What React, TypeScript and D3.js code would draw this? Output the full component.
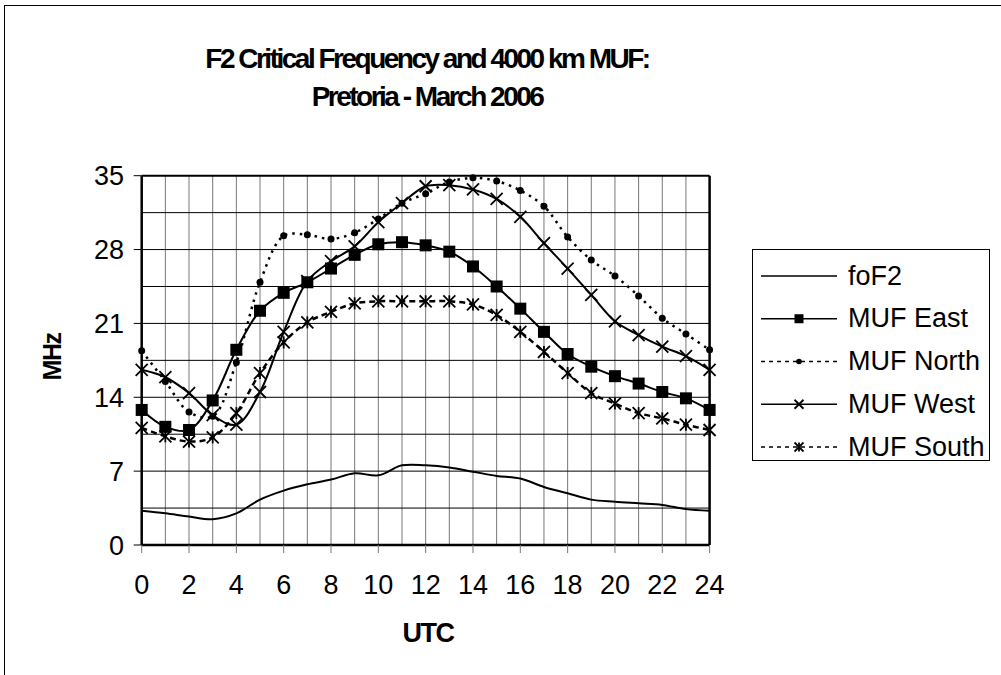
import * as d3 from "d3";

// hourly values (UTC 0..24), MHz
const hours = [0, 1, 2, 3, 4, 5, 6, 7, 8, 9, 10, 11, 12, 13, 14, 15, 16, 17, 18, 19, 20, 21, 22, 23, 24];
const foF2 = [3.25, 3.0, 2.7, 2.45, 3.0, 4.3, 5.15, 5.75, 6.2, 6.8, 6.6, 7.55, 7.55, 7.35, 6.95, 6.55, 6.3, 5.5, 4.9, 4.3, 4.1, 3.95, 3.8, 3.4, 3.25];
const mufEast = [12.8, 11.2, 10.9, 13.7, 18.5, 22.2, 23.9, 24.9, 26.2, 27.5, 28.5, 28.7, 28.4, 27.8, 26.4, 24.5, 22.4, 20.2, 18.1, 16.9, 16.0, 15.3, 14.5, 13.9, 12.8];
const mufNorth = [18.4, 15.5, 12.6, 12.2, 17.3, 24.9, 29.3, 29.4, 29.0, 29.6, 30.9, 32.4, 33.3, 34.4, 34.8, 34.5, 33.6, 32.1, 29.2, 27.0, 25.5, 23.6, 21.5, 20.0, 18.5];
const mufWest = [16.6, 15.9, 14.4, 12.3, 11.4, 14.5, 20.2, 25.0, 26.9, 28.3, 30.6, 32.4, 34.0, 34.1, 33.7, 32.8, 31.1, 28.6, 26.2, 23.7, 21.2, 19.9, 18.8, 17.9, 16.6];
const mufSouth = [11.1, 10.3, 9.8, 10.2, 12.5, 16.3, 19.2, 21.1, 22.1, 22.9, 23.1, 23.1, 23.1, 23.1, 22.8, 21.8, 20.2, 18.3, 16.3, 14.4, 13.4, 12.5, 12.0, 11.4, 10.9];

const xTicks = [0, 2, 4, 6, 8, 10, 12, 14, 16, 18, 20, 22, 24];
const yTicks = [0, 7, 14, 21, 28, 35];

type MarkerKind = "none" | "square" | "dot" | "cross" | "star";

const series: { name: string; values: number[]; marker: MarkerKind; dash: string | null }[] = [
  { name: "foF2", values: foF2, marker: "none", dash: null },
  { name: "MUF East", values: mufEast, marker: "square", dash: null },
  { name: "MUF North", values: mufNorth, marker: "dot", dash: "2.5,5" },
  { name: "MUF West", values: mufWest, marker: "cross", dash: null },
  { name: "MUF South", values: mufSouth, marker: "star", dash: "6,4" },
];

const FONT = "'Liberation Sans', Arial, Helvetica, sans-serif";
const PLOT = { left: 141.7, right: 709.6, top: 175.7, bottom: 545 };

function Marker({ kind, cx, cy, s }: { kind: MarkerKind; cx: number; cy: number; s: number }) {
  const h = s / 2;
  if (kind === "square") return <rect x={cx - h} y={cy - h} width={s} height={s} fill="#000" />;
  if (kind === "dot") return <circle cx={cx} cy={cy} r={h * 0.7} fill="#000" />;
  if (kind === "cross")
    return (
      <g stroke="#000" strokeWidth={1.8}>
        <line x1={cx - h} y1={cy - h} x2={cx + h} y2={cy + h} />
        <line x1={cx - h} y1={cy + h} x2={cx + h} y2={cy - h} />
      </g>
    );
  if (kind === "star")
    return (
      <g stroke="#000" strokeWidth={1.8}>
        <line x1={cx - h} y1={cy - h} x2={cx + h} y2={cy + h} />
        <line x1={cx - h} y1={cy + h} x2={cx + h} y2={cy - h} />
        <line x1={cx} y1={cy - h} x2={cx} y2={cy + h} />
      </g>
    );
  return null;
}

export default function App() {
  const x = d3.scaleLinear().domain([0, 24]).range([PLOT.left, PLOT.right]);
  const y = d3.scaleLinear().domain([0, 35]).range([PLOT.bottom, PLOT.top]);

  const line = d3
    .line<number>()
    .x((_, i) => x(hours[i]))
    .y((d) => y(d))
    .curve(d3.curveCatmullRom.alpha(0.5));

  const vGrid = d3.range(1, 24);
  const hGrid = d3.range(3.5, 35, 3.5);

  const legendY = d3.scaleLinear().domain([0, 4]).range([276, 447]);

  return (
    <svg
      width={1001}
      height={675}
      style={{ position: "absolute", left: 0, top: 0, background: "#fff" }}
      fontFamily={FONT}
    >
      {/* chart area border, only top and left edges fall inside the page */}
      <rect x={4.5} y={5.5} width={1200} height={900} fill="#fff" stroke="#000" strokeWidth={1} />

      <text x={427} y={68} textAnchor="middle" fontSize={28} fontWeight="bold" letterSpacing={-2.5}>
        F2 Critical Frequency and 4000 km MUF:
      </text>
      <text x={427} y={106} textAnchor="middle" fontSize={28} fontWeight="bold" letterSpacing={-2.5}>
        Pretoria - March 2006
      </text>

      {/* gridlines */}
      {vGrid.map((h) => (
        <line key={"v" + h} x1={x(h)} x2={x(h)} y1={PLOT.top} y2={PLOT.bottom} stroke="#777" strokeWidth={1} />
      ))}
      {hGrid.map((v) => (
        <line key={"h" + v} x1={PLOT.left} x2={PLOT.right} y1={y(v)} y2={y(v)} stroke="#000" strokeWidth={1} />
      ))}

      {/* frame */}
      <line x1={PLOT.left} x2={PLOT.right} y1={PLOT.top} y2={PLOT.top} stroke="#000" strokeWidth={2} />
      <line x1={PLOT.right} x2={PLOT.right} y1={PLOT.top} y2={PLOT.bottom} stroke="#000" strokeWidth={2.5} />
      <line x1={PLOT.left} x2={PLOT.right} y1={PLOT.bottom} y2={PLOT.bottom} stroke="#000" strokeWidth={2.5} />
      <line x1={PLOT.left} x2={PLOT.left} y1={PLOT.top} y2={PLOT.bottom} stroke="#000" strokeWidth={2.5} />

      {/* axes ticks and labels */}
      {yTicks.map((t) => (
        <g key={"yt" + t}>
          <line x1={PLOT.left - 8} x2={PLOT.left} y1={y(t)} y2={y(t)} stroke="#000" strokeWidth={1} />
          <text x={124} y={y(t) + 9.5} textAnchor="end" fontSize={27}>
            {t}
          </text>
        </g>
      ))}
      {xTicks.map((t) => (
        <g key={"xt" + t}>
          <line x1={x(t)} x2={x(t)} y1={PLOT.bottom} y2={PLOT.bottom + 8} stroke="#777" strokeWidth={1} />
          <text x={x(t)} y={594} textAnchor="middle" fontSize={27}>
            {t}
          </text>
        </g>
      ))}

      <text x={428} y={642} textAnchor="middle" fontSize={27} fontWeight="bold" letterSpacing={-1.5}>
        UTC
      </text>
      <text
        transform={`translate(61,357) rotate(-90)`}
        textAnchor="middle"
        fontSize={25}
        fontWeight="bold"
        letterSpacing={-1.5}
      >
        MHz
      </text>

      {/* series */}
      {series.map((s) => (
        <g key={s.name}>
          <path
            d={line(s.values) ?? ""}
            fill="none"
            stroke="#000"
            strokeWidth={s.dash ? 2.5 : 2}
            strokeDasharray={s.dash ?? undefined}
          />
          {s.values.map((v, i) => (
            <Marker key={i} kind={s.marker} cx={x(hours[i])} cy={y(v)} s={s.marker === "dot" ? 10 : 12} />
          ))}
        </g>
      ))}

      {/* legend */}
      <rect x={752.5} y={249.5} width={237} height={211} fill="#fff" stroke="#000" strokeWidth={1} />
      {series.map((s, i) => {
        const cy = legendY(i);
        return (
          <g key={"lg" + s.name}>
            <line
              x1={761}
              x2={837}
              y1={cy}
              y2={cy}
              stroke="#000"
              strokeWidth={1.5}
              strokeDasharray={s.dash ? "4,4" : undefined}
            />
            <Marker kind={s.marker} cx={799} cy={cy} s={s.marker === "dot" ? 8 : 9} />
            <text x={848} y={cy + 8.5} fontSize={27}>
              {s.name}
            </text>
          </g>
        );
      })}
    </svg>
  );
}
